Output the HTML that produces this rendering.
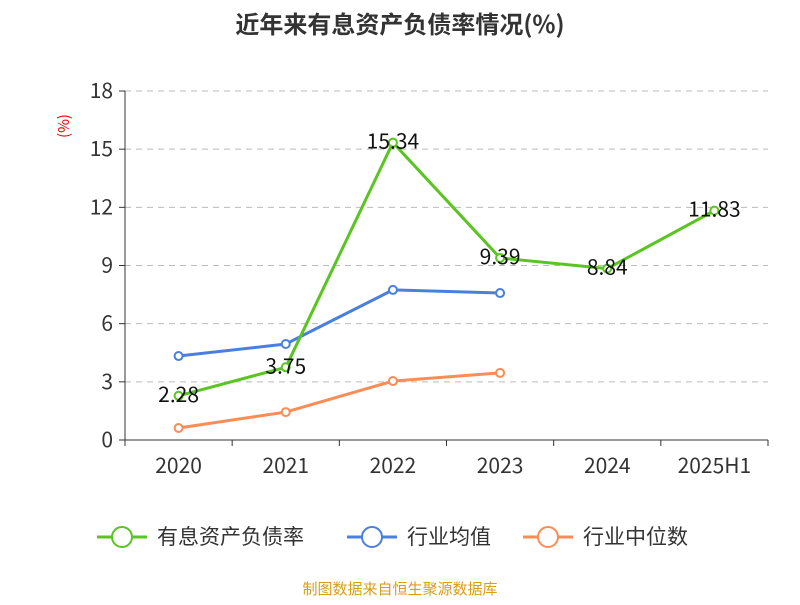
<!DOCTYPE html>
<html><head><meta charset="utf-8"><style>
body{margin:0;background:#fff;font-family:"Noto Sans CJK SC",sans-serif;}
svg text{font-family:"Noto Sans CJK SC",sans-serif;}
</style></head><body>
<svg id="chart" width="800" height="600" xmlns="http://www.w3.org/2000/svg">
<text x="400" y="33" text-anchor="middle" font-size="24" font-weight="bold" fill="#333">近年来有息资产负债率情况(%)</text>
<text x="69" y="126" text-anchor="middle" font-size="15" fill="#e00" transform="rotate(-90 69 126)">(%)</text>
<g id="grid"></g><g id="axes"></g><g id="series"></g>
<g font-size="21" fill="#333">
<g><line x1="97" y1="537" x2="147" y2="537" stroke="#5ac421" stroke-width="3"/><circle cx="122" cy="537" r="10" fill="#fff" stroke="#5ac421" stroke-width="2"/><text x="157" y="544">有息资产负债率</text></g>
<g><line x1="347" y1="537" x2="397" y2="537" stroke="#4a7fe0" stroke-width="3"/><circle cx="372" cy="537" r="10" fill="#fff" stroke="#4a7fe0" stroke-width="2"/><text x="407" y="544">行业均值</text></g>
<g><line x1="523" y1="537" x2="573" y2="537" stroke="#fb8c55" stroke-width="3"/><circle cx="548" cy="537" r="10" fill="#fff" stroke="#fb8c55" stroke-width="2"/><text x="583" y="544">行业中位数</text></g>
</g>
<text x="400" y="594" text-anchor="middle" font-size="15" fill="#d4a017">制图数据来自恒生聚源数据库</text>
</svg>
<script>
const categories=["2020","2021","2022","2023","2024","2025H1"];
const debtRatio=[2.28,3.75,15.34,9.39,8.84,11.83];
const debtLabels=["2.28","3.75","15.34","9.39","8.84","11.83"];
const industryMean=[4.33,4.95,7.74,7.58,null,null];
const industryMedian=[0.62,1.44,3.04,3.46,null,null];
const yTicks=[0,3,6,9,12,15,18];
const NS="http://www.w3.org/2000/svg";
const x0=125,x1=768,y0=440,y1=91,yMax=18;
const bw=(x1-x0)/categories.length;
const xs=i=>x0+bw*(i+0.5);
const ys=v=>y0-(v/yMax)*(y0-y1);
function mk(t,a,p){const e=document.createElementNS(NS,t);for(const k in a)e.setAttribute(k,a[k]);p.appendChild(e);return e;}
const grid=document.getElementById('grid'),axes=document.getElementById('axes'),ser=document.getElementById('series');
yTicks.forEach(v=>{
 if(v>0){const g=mk('line',{x1:x0,x2:x1,y1:ys(v),y2:ys(v),stroke:'#bbb','stroke-dasharray':'6,5'},grid);
 
 }
 const tk=mk('line',{x1:x0-6,x2:x0,y1:ys(v),y2:ys(v),stroke:'#333'},axes);
 
 
 const t=mk('text',{x:x0-12,y:ys(v)+7,'text-anchor':'end','font-size':21,fill:'#333'},axes);t.textContent=v;
 
 
});
const ya=mk('line',{x1:x0,x2:x0,y1:y1,y2:y0,stroke:'#333'},axes);


const xa=mk('line',{x1:x0,x2:x1,y1:y0,y2:y0,stroke:'#333'},axes);


for(let i=0;i<=categories.length;i++){const l=mk('line',{x1:x0+bw*i,x2:x0+bw*i,y1:y0,y2:y0+6,stroke:'#333'},axes);
 
 }
categories.forEach((c,i)=>{const t=mk('text',{x:xs(i),y:473,'text-anchor':'middle','font-size':21,fill:'#333'},axes);t.textContent=c;
 
 });
function series(vals,color,name,labels){
 const pts=vals.map((v,i)=>v==null?null:[xs(i),ys(v)]).filter(p=>p);
 const pl=mk('polyline',{points:pts.map(p=>p.join(',')).join(' '),fill:'none',stroke:color,'stroke-width':3},ser);
 
 
 vals.forEach((v,i)=>{if(v==null)return;
  const c=mk('circle',{cx:xs(i),cy:ys(v),r:4,fill:'#fff',stroke:color,'stroke-width':2},ser);
  
  
  if(labels){const t=mk('text',{x:xs(i),y:ys(v)+6,'text-anchor':'middle','font-size':21,fill:'#111'},ser);t.textContent=labels[i];
   
   }
 });
}
series(industryMedian,'#fb8c55','industry-median');
series(industryMean,'#4a7fe0','industry-mean');
series(debtRatio,'#5ac421','debt-ratio',debtLabels);
</script>
</body></html>
